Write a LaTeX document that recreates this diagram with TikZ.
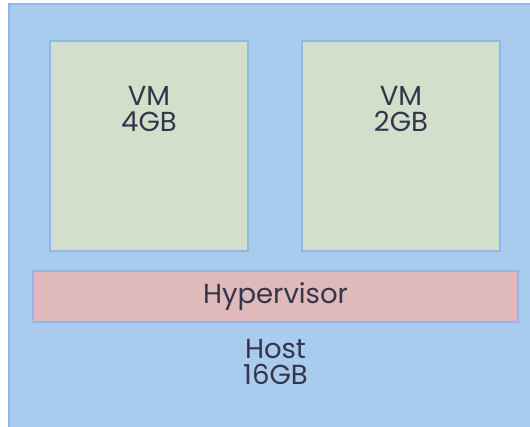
\documentclass[tikz,border=0pt]{standalone}
\usepackage{fontspec}
\setmainfont{Poppins}
\usepackage{xcolor}
\usetikzlibrary{positioning, calc}

\definecolor{hostblue}{HTML}{A9CBEE}
\definecolor{edgeblue}{HTML}{8DB9E6}
\definecolor{vmgreen}{HTML}{D2DFCA}
\definecolor{hyperpink}{HTML}{E0B9BA}
\definecolor{labelgray}{HTML}{35354A}

\begin{document}
\begin{tikzpicture}[x=1pt, y=-1pt, font=\fontsize{27.5}{26}\selectfont, text=labelgray]
\tikzstyle{hostbox} = [rectangle, draw=edgeblue, fill=hostblue, line width=1.5pt, inner sep=0pt]
\tikzstyle{vmbox} = [rectangle, draw=edgeblue, fill=vmgreen, line width=1.2pt, minimum width=198pt, minimum height=210pt, inner sep=0pt]
\tikzstyle{hyperbox} = [rectangle, draw=edgeblue, fill=hyperpink, line width=1.2pt, minimum width=485pt, minimum height=51pt, inner sep=0pt]
\tikzstyle{boxtext} = [align=center, inner sep=0pt]

\useasboundingbox (0,0) rectangle (530,427);
\begin{scope}
\clip (0,0) rectangle (530,427);
\node (host) [hostbox, minimum width=530pt, minimum height=424pt] at (274,216) {};
\end{scope}

\node (vma) [vmbox] at (149,146) {};
\node (vmb) [vmbox] at (401,146) {};
\node (hyper) [hyperbox] at (275.5,296.5) {};

\node (vmatext) [boxtext, below=46pt of vma.north] {VM\\4GB};
\node (vmbtext) [boxtext, below=46pt of vmb.north] {VM\\2GB};
\node (hypertext) [boxtext] at (hyper) {Hypervisor};
\node (hosttext) [boxtext, below=17pt of hyper.south] {Host\\16GB};
\end{tikzpicture}
\end{document}
